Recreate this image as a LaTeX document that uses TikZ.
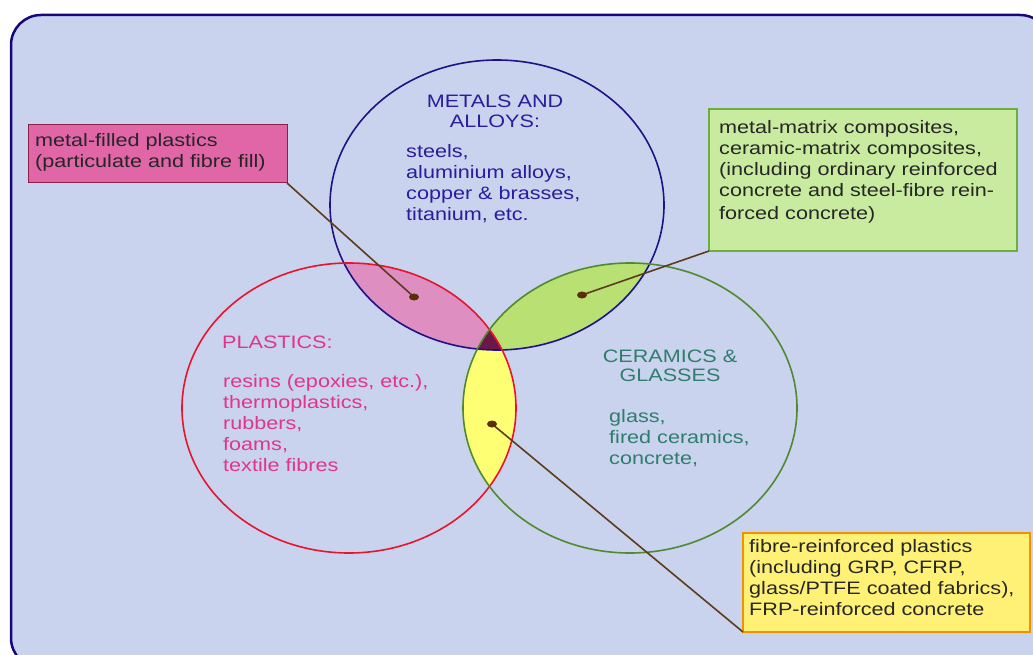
\documentclass[tikz,border=0pt]{standalone}
\usepackage{fontspec}
\setmainfont{Liberation Sans}[FakeStretch=1.2]

\definecolor{framenavy}{HTML}{14087A}
\definecolor{paneblue}{HTML}{C9D3EE}
\definecolor{metblue}{HTML}{1E1285}
\definecolor{plared}{HTML}{E8142E}
\definecolor{cergreen}{HTML}{4F8A30}
\definecolor{mettext}{HTML}{2A1C9C}
\definecolor{platext}{HTML}{E0358A}
\definecolor{certext}{HTML}{2F7D6C}
\definecolor{pinkzone}{HTML}{DE8EC0}
\definecolor{limezone}{HTML}{B9E072}
\definecolor{yellowzone}{HTML}{FFFF74}
\definecolor{triplezone}{HTML}{6A1848}
\definecolor{leaderbrown}{HTML}{5C3C1C}
\definecolor{dotbrown}{HTML}{5A2E08}
\definecolor{mfpfill}{HTML}{E066A8}
\definecolor{mfpedge}{HTML}{8A2045}
\definecolor{mmcfill}{HTML}{C8EBA0}
\definecolor{mmcedge}{HTML}{6CAF3C}
\definecolor{frpfill}{HTML}{FFF176}
\definecolor{frpedge}{HTML}{F39200}

\tikzset{
  vennsize/.style={x radius=167pt, y radius=145pt},
  dotsize/.style={x radius=5pt, y radius=3.5pt},
  ring/.style={line width=1.6pt},
  leader/.style={draw=leaderbrown, line width=1.6pt},
  callout/.style={rectangle, inner sep=0pt, outer sep=0pt, anchor=north west},
  listtext/.style={anchor=base west, align=left, inner sep=0pt},
  titletext/.style={anchor=base, align=center, inner sep=0pt},
}

\begin{document}
\begin{tikzpicture}[x=1pt, y=-1pt, font=\fontsize{18}{21}\selectfont]
    \useasboundingbox (0,0) rectangle (1033,655);
    \clip (0,0) rectangle (1033,655);
    % ---------------- background panel
    \draw[framenavy, fill=paneblue, line width=2.5pt, rounded corners=30pt] (11,15) rectangle (1050,668);
    \coordinate (metC) at (497,205);
    \coordinate (plaC) at (349,408);
    \coordinate (cerC) at (630,408);
    % ---------------- overlaps
    \begin{scope}
      \clip (metC) ellipse [vennsize];
      \fill[pinkzone] (plaC) ellipse [vennsize];
      \fill[limezone] (cerC) ellipse [vennsize];
    \end{scope}
    \begin{scope}
      \clip (plaC) ellipse [vennsize];
      \fill[yellowzone] (cerC) ellipse [vennsize];
    \end{scope}
    \begin{scope}
      \clip (metC) ellipse [vennsize];
      \clip (plaC) ellipse [vennsize];
      \fill[triplezone] (cerC) ellipse [vennsize];
    \end{scope}
    % ---------------- the three rings
    \draw[ring, metblue] (metC) ellipse [vennsize];
    \draw[ring, plared] (plaC) ellipse [vennsize];
    \draw[ring, cergreen] (cerC) ellipse [vennsize];
    % ---------------- ring texts (anchored at the last baseline)
    \node[titletext, mettext] (metTitle) at (495,128) {METALS AND\\[-1pt]ALLOYS:};
    \node[listtext, mettext] (metList) at (406,221) {steels,\\aluminium alloys,\\copper \& brasses,\\titanium, etc.};
    \node[listtext, platext] (plaTitle) at (222,348) {PLASTICS:};
    \node[listtext, platext] (plaList) at (223,471) {resins (epoxies, etc.),\\thermoplastics,\\rubbers,\\foams,\\textile fibres};
    \node[titletext, certext] (cerTitle) at (670,381) {CERAMICS \&\\[-2pt]GLASSES};
    \node[listtext, certext] (cerList) at (609,464) {glass,\\fired ceramics,\\concrete,};
    % ---------------- callout boxes
    \node[callout, fill=mfpfill, draw=mfpedge, line width=1pt, minimum width=259pt, minimum height=58pt] (mfpBox) at (28,125) {};
    \node[listtext, black!85] (mfpText) at (35,168) {metal-filled plastics\\(particulate and fibre fill)};
    \node[callout, fill=mmcfill, draw=mmcedge, line width=1.5pt, minimum width=308pt, minimum height=142pt] (mmcBox) at (709,109) {};
    \node[listtext, black!85] (mmcText) at (719,219) {metal-matrix composites,\\ceramic-matrix composites,\\(including ordinary reinforced\\concrete and steel-fibre rein-\\[1.5pt]forced concrete)};
    \node[callout, fill=frpfill, draw=frpedge, line width=1.5pt, minimum width=287pt, minimum height=99pt] (frpBox) at (743,533) {};
    \node[listtext, black!85] (frpText) at (749,615) {fibre-reinforced plastics\\(including GRP, CFRP,\\glass/PTFE coated fabrics),\\FRP-reinforced concrete};
    % ---------------- leaders
    \coordinate (mfpDot) at (414,297);
    \coordinate (mmcDot) at (582,295);
    \coordinate (frpDot) at (492,424);
    \draw[leader] (mfpBox.south east) -- (mfpDot);
    \draw[leader] (mmcBox.south west) -- (mmcDot);
    \draw[leader] (frpBox.south west) -- (frpDot);
    \foreach \d in {mfpDot,mmcDot,frpDot} \fill[dotbrown] (\d) ellipse [dotsize];
\end{tikzpicture}
\end{document}
